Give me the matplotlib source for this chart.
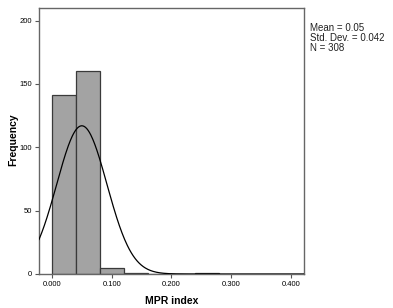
import numpy as np
import matplotlib
matplotlib.use("Agg")
import matplotlib.pyplot as plt

# histogram bins (MPR index) and counts
bin_edges = [0.00, 0.04, 0.08, 0.12, 0.16, 0.20, 0.24, 0.28]
counts = [141, 160, 5, 1, 0, 0, 1]
mean_val = 0.05
std_val = 0.042
n_val = 308
x_ticks = [0.0, 0.1, 0.2, 0.3, 0.4]
y_ticks = [0, 50, 100, 150, 200]

plt.rcParams['font.family'] = ['Liberation Sans', 'DejaVu Sans']

fig = plt.figure(figsize=(3.93, 3.08), dpi=100)
ax = fig.add_axes([39 / 393, 1 - 274 / 308, (304 - 39) / 393, (274 - 8) / 308])

edges = np.array(bin_edges)
ax.bar(edges[:-1], counts, width=np.diff(edges), align='edge',
       color='#a3a3a3', edgecolor='#3a3a3a', linewidth=0.9, zorder=2)

# normal curve scaled to the histogram
xmin, xmax = -0.0217, 0.422
xs = np.linspace(xmin, xmax, 400)
bw = bin_edges[1] - bin_edges[0]
ys = n_val * bw / (std_val * np.sqrt(2 * np.pi)) * np.exp(-0.5 * ((xs - mean_val) / std_val) ** 2)
ax.plot(xs, ys, color='black', lw=0.9, zorder=3)

ax.set_xlim(xmin, xmax)
ax.set_ylim(0, 210)
ax.set_xticks(x_ticks)
ax.set_xticklabels([f'{v:.3f}' for v in x_ticks])
ax.set_yticks(y_ticks)
ax.tick_params(labelsize=5.5, length=3, width=0.8, color='#555555', pad=2)

for s in ax.spines.values():
    s.set_color('#666666')
    s.set_linewidth(1.0)

ax.set_xlabel('MPR index', fontsize=7.5, fontweight='bold', labelpad=6)
fig.text(13 / 393, 1 - 140 / 308, 'Frequency', fontsize=7.5, fontweight='bold',
         rotation=90, ha='center', va='center')

fig.text(310 / 393, 1 - 23 / 308,
         f'Mean = {mean_val}\nStd. Dev. = {std_val}\nN = {n_val}',
         fontsize=7, va='top', ha='left', linespacing=1.0, color='#222222')

fig.savefig('out.png', dpi=100)
